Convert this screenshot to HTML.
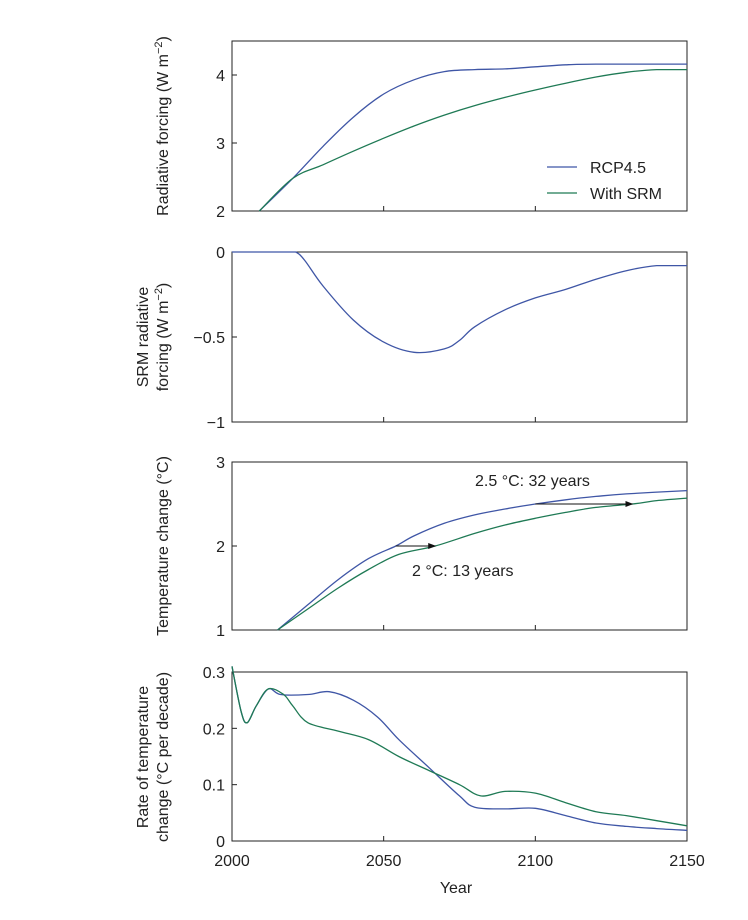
<!DOCTYPE html>
<html><head><meta charset="utf-8"><style>
body{margin:0;background:#fff;width:748px;height:915px;overflow:hidden}
svg text{font-family:"Liberation Sans",sans-serif;fill:#222}
</style></head><body>
<svg id="chart" width="748" height="915" xmlns="http://www.w3.org/2000/svg"></svg>
<script>
const xTicks=[2000,2050,2100,2150];
const p1Years=[2009,2020,2030,2040,2050,2060,2070,2080,2090,2100,2110,2120,2150];
const p1Rcp=[2,2.48,2.95,3.38,3.72,3.93,4.05,4.08,4.09,4.12,4.15,4.16,4.16];
const p1SrmYears=[2009,2020,2030,2040,2050,2060,2070,2080,2090,2100,2110,2120,2130,2140,2150];
const p1Srm=[2,2.48,2.68,2.88,3.07,3.25,3.41,3.55,3.67,3.78,3.88,3.97,4.04,4.08,4.08];
const p2Years=[2000,2010,2018,2021,2024,2030,2040,2050,2060,2070,2075,2080,2090,2100,2110,2120,2130,2140,2150];
const p2Vals=[0,0,0,0,-0.05,-0.2,-0.4,-0.53,-0.59,-0.57,-0.52,-0.44,-0.34,-0.27,-0.22,-0.16,-0.11,-0.08,-0.08];
const p3RcpYears=[2015,2025,2035,2045,2054,2060,2070,2080,2090,2100,2110,2120,2130,2150];
const p3Rcp=[1,1.3,1.6,1.85,2.0,2.12,2.27,2.37,2.44,2.5,2.55,2.59,2.62,2.66];
const p3SrmYears=[2015,2025,2035,2045,2055,2067,2080,2090,2100,2110,2120,2132,2140,2150];
const p3Srm=[1,1.25,1.5,1.72,1.9,2.0,2.15,2.25,2.33,2.4,2.46,2.5,2.54,2.57];
const p4RcpYears=[2000,2003,2005,2008,2012,2016,2025,2032,2040,2048,2055,2065,2075,2080,2090,2100,2110,2120,2130,2140,2150];
const p4Rcp=[0.31,0.23,0.21,0.24,0.27,0.26,0.26,0.265,0.25,0.22,0.18,0.13,0.08,0.06,0.057,0.058,0.045,0.032,0.026,0.022,0.019];
const p4SrmYears=[2000,2003,2005,2008,2012,2017,2020,2025,2035,2045,2055,2065,2075,2082,2090,2100,2110,2120,2130,2140,2150];
const p4Srm=[0.31,0.23,0.21,0.24,0.27,0.26,0.24,0.21,0.195,0.18,0.15,0.125,0.1,0.08,0.088,0.085,0.068,0.052,0.045,0.036,0.027];
const BLUE="#3f56a6",GREEN="#1f7a55";
const svg=document.getElementById('chart');const NS="http://www.w3.org/2000/svg";
function el(t,a,txt){const e=document.createElementNS(NS,t);for(const k in a)e.setAttribute(k,a[k]);if(txt!==undefined)e.textContent=txt;svg.appendChild(e);return e;}
const X0=232,X1=687;
const xs=v=>X0+(v-2000)/150*(X1-X0);
function panel(name,top,bot,ymin,ymax,yt,ytl){
  const ys=v=>bot-(v-ymin)/(ymax-ymin)*(bot-top);
  const r=el('rect',{x:X0,y:top,width:X1-X0,height:bot-top,fill:'none',stroke:'#222','stroke-width':1});
  
  yt.forEach((v,i)=>{const y=ys(v);
    const l=el('line',{x1:X0,x2:X0+5,y1:y,y2:y,stroke:'#222'});
    const t=el('text',{x:X0-7,y:y+6,'text-anchor':'end','font-size':16},ytl[i]);});
  xTicks.forEach(v=>{const l=el('line',{x1:xs(v),x2:xs(v),y1:bot,y2:bot-5,stroke:'#222'});});
  return ys;
}
function line(name,ys,xv,yv,c){
  const P=xv.map((x,i)=>[xs(x),ys(yv[i])]);
  let d='M'+P[0][0].toFixed(1)+','+P[0][1].toFixed(1);
  for(let i=0;i<P.length-1;i++){
    const p0=P[Math.max(0,i-1)],p1=P[i],p2=P[i+1],p3=P[Math.min(P.length-1,i+2)];
    let c1=[p1[0]+(p2[0]-p0[0])/6,p1[1]+(p2[1]-p0[1])/6];
    let c2=[p2[0]-(p3[0]-p1[0])/6,p2[1]-(p3[1]-p1[1])/6];
    if(p1[1]===p2[1]&&(p0[1]===p1[1]||p3[1]===p2[1])){c1=[c1[0],p1[1]];c2=[c2[0],p2[1]];}
    d+=' C'+c1.map(v=>v.toFixed(1)).join(',')+' '+c2.map(v=>v.toFixed(1)).join(',')+' '+p2.map(v=>v.toFixed(1)).join(',');
  }
  const p=el('path',{d:d,fill:'none',stroke:c,'stroke-width':1.3,'stroke-linejoin':'round'});
  
}
function ylabel(name,lines,cx,cy){
  const t=el('text',{transform:`translate(${cx},${cy}) rotate(-90)`,'text-anchor':'middle','font-size':16});
  
  lines.forEach((s,i)=>{const ts=document.createElementNS(NS,'tspan');ts.setAttribute('x',0);ts.setAttribute('dy',i?20:0);ts.innerHTML=s;t.appendChild(ts);});
}
const y1=panel('panel1',41,211,2,4.5,[2,3,4],['2','3','4']);
line('rcp45-forcing-line',y1,p1Years,p1Rcp,BLUE);line('srm-forcing-line',y1,p1SrmYears,p1Srm,GREEN);
ylabel('panel1-y-title',['Radiative forcing (W m<tspan dy="-6" font-size="11">−2</tspan><tspan dy="6">)</tspan>'],168,126);
let g=el('line',{x1:547,x2:577,y1:167,y2:167,stroke:BLUE,'stroke-width':1.3});
g=el('text',{x:590,y:173,'font-size':16},'RCP4.5');
g=el('line',{x1:547,x2:577,y1:193,y2:193,stroke:GREEN,'stroke-width':1.3});
g=el('text',{x:590,y:199,'font-size':16},'With SRM');

const y2=panel('panel2',252,422,-1,0,[0,-0.5,-1],['0','−0.5','−1']);
line('srm-radiative-forcing-line',y2,p2Years,p2Vals,BLUE);
ylabel('panel2-y-title',['SRM radiative','forcing (W m<tspan dy="-6" font-size="11">−2</tspan><tspan dy="6">)</tspan>'],148,337);

const y3=panel('panel3',462,630,1,3,[1,2,3],['1','2','3']);
line('rcp45-temperature-line',y3,p3RcpYears,p3Rcp,BLUE);line('srm-temperature-line',y3,p3SrmYears,p3Srm,GREEN);
ylabel('panel3-y-title',['Temperature change (°C)'],168,546);
el('defs',{}).innerHTML='<marker id="ah" markerWidth="8" markerHeight="8" refX="7" refY="4" orient="auto"><path d="M0,1 L8,4 L0,7 Z" fill="#111"/></marker>';
g=el('line',{x1:xs(2054),x2:xs(2067),y1:y3(2),y2:y3(2),stroke:'#111','marker-end':'url(#ah)'});
g=el('line',{x1:xs(2100),x2:xs(2132),y1:y3(2.5),y2:y3(2.5),stroke:'#111','marker-end':'url(#ah)'});
g=el('text',{x:475,y:486,'font-size':16},'2.5 °C: 32 years');
g=el('text',{x:412,y:576,'font-size':16},'2 °C: 13 years');

const y4=panel('panel4',672,841,0,0.3,[0,0.1,0.2,0.3],['0','0.1','0.2','0.3']);
line('rcp45-rate-line',y4,p4RcpYears,p4Rcp,BLUE);line('srm-rate-line',y4,p4SrmYears,p4Srm,GREEN);
ylabel('panel4-y-title',['Rate of temperature','change (°C per decade)'],148,757);
xTicks.forEach(v=>{const t=el('text',{x:xs(v),y:866,'text-anchor':'middle','font-size':16},String(v));});
g=el('text',{x:456,y:893,'text-anchor':'middle','font-size':16},'Year');
</script>
</body></html>
